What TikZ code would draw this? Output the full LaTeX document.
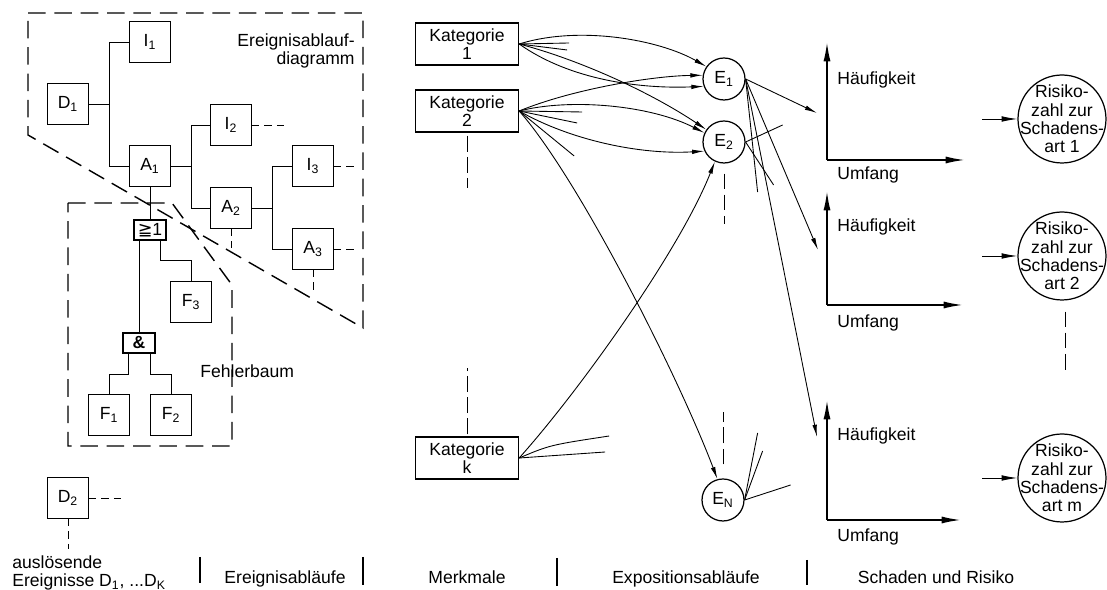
\documentclass[tikz,border=0pt]{standalone}
\usepackage{fontspec}
\setmainfont{Liberation Sans}
\newfontfamily\symfont{DejaVu Sans}
\usetikzlibrary{arrows.meta,calc}

\tikzset{
  box/.style={draw,line width=0.8pt,minimum size=0.82cm,inner sep=0pt},
  gate/.style={draw,line width=0.8pt,minimum width=0.64cm,minimum height=0.4cm,inner sep=0pt},
  katbox/.style={draw,line width=0.8pt,minimum width=2.06cm,minimum height=0.84cm,inner sep=0pt,align=center},
  ereignis/.style={draw,circle,line width=0.7pt,minimum size=0.84cm,inner sep=0pt},
  risk/.style={draw,circle,line width=0.7pt,minimum size=1.76cm,inner sep=0pt},
  risktext/.style={align=center,inner sep=0pt},
  lbl/.style={anchor=base,inner sep=0pt},
  outline/.style={dash pattern=on 10pt off 5pt,line width=0.8pt},
  contd/.style={dash pattern=on 4pt off 3pt,line width=0.5pt},
  conn/.style={line width=0.5pt},
  arr/.style={line width=0.5pt,-{Latex[length=7pt,width=2.6pt]}},
  axis/.style={line width=1pt,-{Latex[length=11pt,width=4pt]}},
  divider/.style={line width=1.3pt}
}

\begin{document}
\begin{tikzpicture}[x=0.02cm,y=-0.02cm,font=\fontsize{10}{10.5}\selectfont]
  \fill[white] (0,0) rectangle (1107,590);
  \useasboundingbox (0,0) rectangle (1107,590);

  % Ereignisablaufdiagramm und Fehlerbaum
  \draw[outline] (28,13) -- (363,13) -- (363,328) -- (28,135) -- cycle;
  \draw[outline] (68,203) -- (172,203) -- (232,285) -- (232,446) -- (68,446) -- cycle;
  \node[anchor=east,align=right,inner sep=0pt] (ead) at (355,51) {Ereignisablauf-\\diagramm};
  \node[anchor=base west,inner sep=0pt] (fb) at (200,378) {Fehlerbaum};

  \node[box] (d1) at (68,104) {D\textsubscript{1}};
  \node[box] (i1) at (150,42) {I\textsubscript{1}};
  \node[box] (a1) at (150,166) {A\textsubscript{1}};
  \node[box] (i2) at (231,125) {I\textsubscript{2}};
  \node[box] (a2) at (231,208) {A\textsubscript{2}};
  \node[box] (i3) at (313,166) {I\textsubscript{3}};
  \node[box] (a3) at (313,249) {A\textsubscript{3}};
  \node[gate] (or1) at (150,230) {{\symfont ≧}1};
  \node[box] (f3) at (191,302) {F\textsubscript{3}};
  \node[gate] (and1) at (139,343) {\textbf{\&}};
  \node[box] (f1) at (109,415) {F\textsubscript{1}};
  \node[box] (f2) at (171,415) {F\textsubscript{2}};
  \node[box] (d2) at (68,498) {D\textsubscript{2}};

  \draw[conn] (d1.east) -- ++(20,0) |- (i1.west);
  \draw[conn] (d1.east) -- ++(20,0) |- (a1.west);
  \draw[conn] (a1.east) -- ++(20,0) |- (i2.west);
  \draw[conn] (a1.east) -- ++(20,0) |- (a2.west);
  \draw[conn] (a2.east) -- ++(20,0) |- (i3.west);
  \draw[conn] (a2.east) -- ++(20,0) |- (a3.west);
  \draw[conn] (a1.south) -- (or1.north);
  \draw[conn] (and1.north) -- (and1.north |- or1.south);
  \draw[conn] ($(or1.south)+(10,0)$) -- ++(0,20) -| (f3.north);
  \draw[conn] ($(and1.south)+(-11,0)$) -- ++(0,21) -| (f1.north);
  \draw[conn] ($(and1.south)+(11,0)$) -- ++(0,21) -| (f2.north);
  \draw[contd] (i2.east) -- ++(36,0);
  \draw[contd] (i3.east) -- ++(22,0);
  \draw[contd] (a3.east) -- ++(22,0);
  \draw[contd] (a2.south) -- ++(0,19);
  \draw[contd] (a3.south) -- ++(0,23);
  \draw[contd] (d2.east) -- ++(34,0);
  \draw[contd] (d2.south) -- ++(0,30);

  % Merkmale
  \node[katbox] (k1) at (467,44) {Kategorie\\1};
  \node[katbox] (k2) at (467,111) {Kategorie\\2};
  \node[katbox] (kk) at (467,458) {Kategorie\\k};
  \draw[contd,dash pattern=on 9pt off 3pt] (k2.south) ++(0,3) -- +(0,52);
  \draw[contd,dash pattern=on 9pt off 3pt] (kk.north) ++(0,-2) -- +(0,-66);

  % Expositionsablaeufe
  \node[ereignis] (e1) at (724,79) {E\textsubscript{1}};
  \node[ereignis] (e2) at (724,142) {E\textsubscript{2}};
  \node[ereignis] (en) at (723,500) {E\textsubscript{N}};
  \draw[contd,dash pattern=on 9pt off 3pt] (e2.south) ++(0,10) -- +(0,50);
  \draw[contd,dash pattern=on 9pt off 3pt] (en.north) ++(0,-14) -- +(0,-52);

  \draw[arr] (k1.east) .. controls (580,25) and (660,40) .. (e1.145);
  \draw[arr] (k1.east) .. controls (570,80) and (640,89) .. (e1.200);
  \draw[arr] (k1.east) .. controls (580,60) and (650,92) .. (e2.145);
  \draw[conn] (k1.east) -- ++(50,-1);
  \draw[conn] (k1.east) -- ++(48,6);
  \draw[arr] (k2.east) .. controls (570,90) and (650,76) .. (e1.170);
  \draw[arr] (k2.east) .. controls (570,98) and (650,105) .. (e2.155);
  \draw[arr] (k2.east) .. controls (570,140) and (640,155) .. (e2.205);
  \draw[arr] (k2.east) .. controls (580,180) and (680,380) .. (en.105);
  \draw[conn] (k2.east) -- ++(63,1);
  \draw[conn] (k2.east) -- ++(58,12);
  \draw[conn] (k2.east) -- ++(55,45);
  \draw[arr] (kk.east) .. controls (580,390) and (680,250) .. (e2.245);
  \draw[conn] (kk.east) .. controls (550,445) .. ++(90,-22);
  \draw[conn] (kk.east) -- ++(86,-6);

  % Schaden und Risiko
  \coordinate (o1) at (827,160);
  \coordinate (o2) at (827,305);
  \coordinate (o3) at (827,520);
  \draw[axis] (o1) -- ++(0,-118);
  \draw[axis] (o1) -- ++(138,0);
  \draw[axis] (o2) -- ++(0,-114);
  \draw[axis] (o2) -- ++(136,0);
  \draw[axis] (o3) -- ++(0,-120);
  \draw[axis] (o3) -- ++(134,0);
  \node[lbl,anchor=base west] (hf1) at ($(o1)+(10,-75)$) {Häufigkeit};
  \node[lbl,anchor=base west] (um1) at ($(o1)+(10,20)$) {Umfang};
  \node[lbl,anchor=base west] (hf2) at ($(o2)+(10,-73)$) {Häufigkeit};
  \node[lbl,anchor=base west] (um2) at ($(o2)+(10,23)$) {Umfang};
  \node[lbl,anchor=base west] (hf3) at ($(o3)+(10,-79)$) {Häufigkeit};
  \node[lbl,anchor=base west] (um3) at ($(o3)+(10,22)$) {Umfang};

  \coordinate (h1) at (817,113);
  \coordinate (h2) at (818,250);
  \coordinate (h3) at (817,437);
  \draw[arr] (e1.east) -- (h1);
  \draw[arr] (e1.east) -- (h2);
  \draw[arr] (e1.east) -- (h3);
  \draw[conn] (e1.east) -- ++(12,113);
  \draw[conn] (e2.east) -- ++(37,-17);
  \draw[conn] (e2.east) -- ++(28,43);
  \draw[conn] (en.east) -- ++(13,-67);
  \draw[conn] (en.east) -- ++(18,-49);
  \draw[conn] (en.east) -- ++(46,-15);

  \node[risk] (r1) at (1062,119) {};
  \node[risk] (r2) at (1062,256) {};
  \node[risk] (rm) at (1062,478) {};
  \node[risktext] (r1t) at (r1) {Risiko-\\zahl zur\\Schadens-\\art 1};
  \node[risktext] (r2t) at (r2) {Risiko-\\zahl zur\\Schadens-\\art 2};
  \node[risktext] (rmt) at (rm) {Risiko-\\zahl zur\\Schadens-\\art m};
  \draw[arr,-{Latex[length=9pt,width=3.2pt]}] ($(r1.west)+(-35,0)$) -- (r1.west);
  \draw[arr,-{Latex[length=9pt,width=3.2pt]}] ($(r2.west)+(-35,0)$) -- (r2.west);
  \draw[arr,-{Latex[length=9pt,width=3.2pt]}] ($(rm.west)+(-35,0)$) -- (rm.west);
  \draw[contd,dash pattern=on 9pt off 3pt] (r2.south) ++(3,11) -- +(0,60);

  % Fusszeile
  \node[align=left,anchor=west,inner sep=0pt] (ausl) at (12,573) {auslösende\\Ereignisse D\textsubscript{1}, ...D\textsubscript{K}};
  \node[lbl] (col2) at (285,584) {Ereignisabläufe};
  \node[lbl] (col3) at (467,584) {Merkmale};
  \node[lbl] (col4) at (686,584) {Expositionsabläufe};
  \node[lbl] (col5) at (936,584) {Schaden und Risiko};
  \draw[divider] (200,557) -- (200,583);
  \draw[divider] (363,557) -- (363,585);
  \draw[divider] (557,558) -- (557,586);
  \draw[divider] (807,560) -- (807,585);
\end{tikzpicture}
\end{document}
